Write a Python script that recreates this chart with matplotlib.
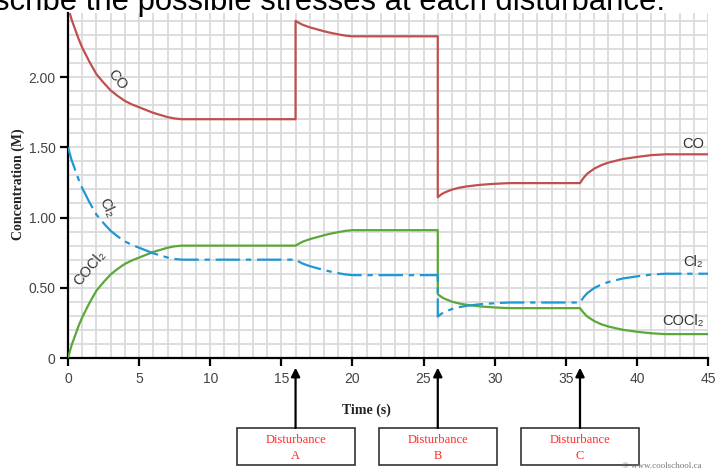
import matplotlib
matplotlib.use('Agg')
import matplotlib.pyplot as plt
from matplotlib.patches import Rectangle
from matplotlib.ticker import MultipleLocator, FixedLocator

# Concentration vs time for CO + Cl2 <-> COCl2, with three disturbances
t_co = [0, 0.25, 0.5, 0.75, 1, 1.5, 2, 2.5, 3, 3.5, 4, 4.5, 5, 6, 7, 7.5, 8, 16,
        16, 16.25, 16.5, 17, 17.5, 18, 18.5, 19, 19.5, 20, 26,
        26, 26.25, 26.5, 27, 27.5, 28, 29, 30, 31, 36,
        36.25, 36.5, 37, 37.5, 38, 39, 40, 41, 42, 45]
c_co = [2.50, 2.41, 2.34, 2.27, 2.21, 2.11, 2.02, 1.96, 1.905, 1.865, 1.83, 1.805, 1.785,
        1.745, 1.715, 1.705, 1.70, 1.70,
        2.40, 2.385, 2.372, 2.354, 2.34, 2.326, 2.314, 2.304, 2.295, 2.29, 2.29,
        1.145, 1.165, 1.179, 1.199, 1.212, 1.221, 1.233, 1.240, 1.245, 1.245,
        1.282, 1.311, 1.348, 1.373, 1.391, 1.416, 1.431, 1.444, 1.45, 1.45]

t_cl2 = [0, 0.25, 0.5, 0.75, 1, 1.5, 2, 2.5, 3, 3.5, 4, 4.5, 5, 6, 7, 7.5, 8, 16,
         16.25, 16.5, 17, 17.5, 18, 18.5, 19, 19.5, 20, 26,
         26, 26.25, 26.5, 27, 27.5, 28, 29, 30, 31, 36,
         36.25, 36.5, 37, 37.5, 38, 39, 40, 41, 42, 45]
c_cl2 = [1.50, 1.41, 1.34, 1.27, 1.21, 1.11, 1.02, 0.96, 0.905, 0.865, 0.83, 0.805, 0.785,
         0.745, 0.715, 0.705, 0.70, 0.70,
         0.685, 0.672, 0.654, 0.64, 0.626, 0.614, 0.604, 0.595, 0.59, 0.59,
         0.295, 0.315, 0.329, 0.349, 0.362, 0.371, 0.383, 0.390, 0.395, 0.395,
         0.432, 0.461, 0.498, 0.523, 0.541, 0.566, 0.581, 0.594, 0.60, 0.60]

t_cocl2 = list(t_cl2)
c_cocl2 = [0.00, 0.09, 0.16, 0.23, 0.29, 0.39, 0.48, 0.54, 0.595, 0.635, 0.67, 0.695, 0.715,
           0.755, 0.785, 0.795, 0.80, 0.80,
           0.815, 0.828, 0.846, 0.86, 0.874, 0.886, 0.896, 0.905, 0.91, 0.91,
           0.455, 0.435, 0.421, 0.401, 0.388, 0.379, 0.367, 0.360, 0.355, 0.355,
           0.322, 0.296, 0.263, 0.240, 0.224, 0.201, 0.187, 0.176, 0.17, 0.17]

x_ticks = [0, 5, 10, 15, 20, 25, 30, 35, 40, 45]
y_ticks = [0, 0.5, 1.0, 1.5, 2.0]
y_ticklabels = ['0', '0.50', '1.00', '1.50', '2.00']

disturb_t = [16, 26, 36]
disturb_names = ['A', 'B', 'C']

red = '#c0504d'
blue = '#1f97d4'
green = '#5aa83a'

W, H = 722, 470
fig = plt.figure(figsize=(W / 100, H / 100), dpi=100)
ax = fig.add_axes([68 / W, 1 - 358 / H, 640 / W, 345 / H])

ax.set_xlim(0, 45)
ax.set_ylim(0, 2.456)

# graph-paper grid
ax.xaxis.set_minor_locator(MultipleLocator(1))
ax.yaxis.set_minor_locator(MultipleLocator(0.1))
ax.grid(which='both', color='#d8d8d8', lw=1.2, zorder=0)
ax.set_axisbelow(True)

ax.plot(t_co, c_co, color=red, lw=1.6, zorder=3)
ax.plot(t_cocl2, c_cocl2, color=green, lw=1.6, zorder=3)
ax.plot(t_cl2, c_cl2, color=blue, lw=1.6, zorder=4,
        linestyle=(0, (11, 2.6, 2.4, 2.6)))

for s in ['top', 'right']:
    ax.spines[s].set_visible(False)
for s in ['left', 'bottom']:
    ax.spines[s].set_linewidth(1.6)
    ax.spines[s].set_color('black')

ax.xaxis.set_major_locator(FixedLocator(x_ticks))
ax.yaxis.set_major_locator(FixedLocator(y_ticks))
ax.set_yticklabels(y_ticklabels)
ax.tick_params(which='major', length=6, width=1.6, color='black',
               labelsize=10, labelcolor='#444444', pad=3)
ax.tick_params(axis='x', pad=4)
ax.tick_params(which='minor', length=0)
for lab in ax.get_xticklabels() + ax.get_yticklabels():
    lab.set_family(['Liberation Sans Narrow', 'Liberation Sans', 'DejaVu Sans'])

# species labels on the curves
lab_font = dict(fontsize=10.5, color='#333333',
                family=['Liberation Sans', 'DejaVu Sans'],
                ha='center', va='center', zorder=5)
ax.text(3.45, 1.98, 'CO', rotation=-50, **lab_font)
ax.text(2.74, 1.07, 'Cl₂', rotation=-65, **lab_font)
ax.text(1.55, 0.64, 'COCl₂', rotation=50, **lab_font)
ax.text(43.95, 1.52, 'CO', **lab_font)
ax.text(43.95, 0.68, 'Cl₂', **lab_font)
ax.text(43.25, 0.26, 'COCl₂', **lab_font)

# axis titles
fig.text(18 / W, 1 - 184 / H, 'Concentration (M)', rotation=90,
         ha='center', va='center', fontsize=10, fontweight='bold',
         family='Liberation Serif', color='#222222')
fig.text(366 / W, 1 - 410 / H, 'Time (s)', ha='center', va='center',
         fontsize=10, fontweight='bold', family='Liberation Serif', color='#222222')

# disturbance boxes with arrows pointing at the axis
trans = ax.get_xaxis_transform()
for t, name in zip(disturb_t, disturb_names):
    ax.add_patch(Rectangle((t - 4.15, -0.310), 8.3, 0.107, transform=trans,
                           clip_on=False, facecolor='white',
                           edgecolor='#333333', lw=1.2))
    ax.annotate('', xy=(t, -0.028), xytext=(t, -0.203), xycoords=trans,
                textcoords=trans, annotation_clip=False,
                arrowprops=dict(arrowstyle='-|>', color='black', lw=1.6,
                                mutation_scale=13, shrinkA=0, shrinkB=0))
    ax.text(t, -0.239, 'Disturbance', transform=trans, ha='center', va='center',
            fontsize=9, color='#ff2a2a', family='Liberation Serif')
    ax.text(t, -0.284, name, transform=trans, ha='center', va='center',
            fontsize=9, color='#ff2a2a', family='Liberation Serif')

fig.text(622 / W, 1 - 462 / H, '© www.coolschool.ca', ha='left', va='top',
         fontsize=6.5, color='#777777', family='Liberation Serif')

# question text running across the top edge
fig.text(-6 / W, 1 - 10 / H, 'scribe the possible stresses at each disturbance.',
         ha='left', va='baseline', fontsize=22.3, color='black',
         family=['Liberation Sans', 'DejaVu Sans'])

fig.savefig('out.png', dpi=100)
